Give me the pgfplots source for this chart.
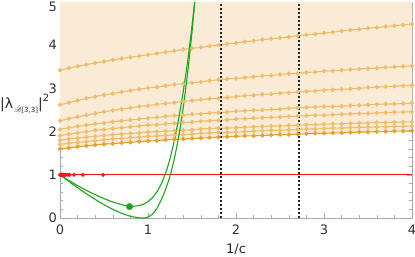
\documentclass[border=0pt]{standalone}
\usepackage{amsmath}
\usepackage{mathrsfs}
\usepackage{pgfplots}
\pgfplotsset{compat=1.18}
\usepackage{pgfplotstable}
\usepgfplotslibrary{fillbetween}
\usepackage{fontspec}
\setmainfont{DejaVu Sans}

\definecolor{fillc}{RGB}{250,235,214}
\definecolor{orl}{RGB}{238,190,110}
\definecolor{ord}{RGB}{230,162,48}
\definecolor{grn}{RGB}{30,165,30}
\definecolor{rd}{RGB}{235,25,25}
\definecolor{framec}{RGB}{170,170,170}

\pgfplotstableread{
x l1 l2 l3 l4 l5 l6 l7 l8
0.0 3.42 2.62 2.25 2.05 1.91 1.80 1.70 1.60
0.1 3.47 2.67 2.30 2.09 1.94 1.83 1.73 1.62
0.2 3.51 2.72 2.34 2.12 1.97 1.85 1.75 1.65
0.3 3.55 2.77 2.38 2.15 2.00 1.87 1.77 1.67
0.4 3.59 2.81 2.42 2.18 2.03 1.89 1.79 1.69
0.5 3.62 2.85 2.46 2.20 2.05 1.91 1.81 1.71
0.6 3.66 2.88 2.49 2.23 2.07 1.93 1.83 1.72
0.7 3.69 2.92 2.52 2.25 2.09 1.94 1.84 1.74
0.8 3.72 2.95 2.55 2.27 2.11 1.96 1.86 1.75
0.9 3.75 2.98 2.58 2.29 2.13 1.97 1.87 1.77
1.0 3.78 3.01 2.60 2.31 2.15 1.99 1.89 1.78
1.1 3.81 3.03 2.63 2.33 2.16 2.00 1.90 1.79
1.2 3.84 3.06 2.65 2.35 2.18 2.01 1.91 1.81
1.3 3.87 3.09 2.67 2.37 2.19 2.02 1.92 1.82
1.4 3.90 3.11 2.70 2.38 2.21 2.03 1.93 1.83
1.5 3.93 3.13 2.72 2.40 2.22 2.04 1.94 1.84
1.6 3.95 3.15 2.74 2.41 2.24 2.06 1.96 1.85
1.7 3.98 3.18 2.76 2.43 2.25 2.07 1.97 1.86
1.8 4.00 3.20 2.77 2.44 2.26 2.08 1.98 1.87
1.9 4.03 3.22 2.79 2.45 2.27 2.08 1.98 1.88
2.0 4.05 3.23 2.81 2.47 2.29 2.09 1.99 1.89
2.1 4.08 3.25 2.83 2.48 2.30 2.10 2.00 1.90
2.2 4.10 3.27 2.84 2.49 2.31 2.11 2.01 1.90
2.3 4.13 3.29 2.86 2.50 2.32 2.12 2.02 1.91
2.4 4.15 3.30 2.87 2.51 2.33 2.13 2.03 1.92
2.5 4.17 3.32 2.89 2.52 2.34 2.13 2.03 1.93
2.6 4.19 3.34 2.90 2.54 2.35 2.14 2.04 1.93
2.7 4.22 3.35 2.92 2.55 2.36 2.15 2.05 1.94
2.8 4.24 3.37 2.93 2.56 2.37 2.16 2.06 1.95
2.9 4.26 3.38 2.94 2.57 2.38 2.16 2.06 1.96
3.0 4.28 3.40 2.96 2.58 2.38 2.17 2.07 1.96
3.1 4.30 3.41 2.97 2.58 2.39 2.18 2.08 1.97
3.2 4.33 3.42 2.98 2.59 2.40 2.18 2.08 1.97
3.3 4.35 3.44 2.99 2.60 2.41 2.19 2.09 1.98
3.4 4.37 3.45 3.00 2.61 2.42 2.20 2.10 1.99
3.5 4.39 3.46 3.02 2.62 2.42 2.20 2.10 1.99
3.6 4.41 3.47 3.03 2.63 2.43 2.21 2.11 2.00
3.7 4.43 3.49 3.04 2.64 2.44 2.21 2.11 2.00
3.8 4.45 3.50 3.05 2.64 2.45 2.22 2.12 2.01
3.9 4.47 3.51 3.06 2.65 2.45 2.22 2.12 2.01
4.0 4.49 3.52 3.07 2.66 2.46 2.23 2.13 2.02
}\bands

\begin{document}
\begin{tikzpicture}
\begin{axis}[
  scale only axis,
  width=352pt, height=216pt,
  xmin=0, xmax=4, ymin=0, ymax=5,
  xtick={0,1,2,3,4}, ytick={0,1,2,3,4,5},
  xticklabels={0,1,2,3,4},
  yticklabels={0,1,2,3,4,\raisebox{-5pt}[\height][\depth]{5}},
  minor x tick num=4, minor y tick num=4,
  tick align=inside,
  major tick length=5pt, minor tick length=3pt,
  tick style={framec, line width=0.6pt},
  axis line style={framec, line width=0.9pt},
  ticklabel style={font=\fontsize{13pt}{13pt}\selectfont, text=black!80},
  xticklabel style={inner sep=0pt, yshift=-6.5pt},
  yticklabel style={inner sep=0pt, xshift=-3pt},
  clip=true,
]
\addplot[draw=none, name path=bot, forget plot] table[x=x,y=l8]{\bands};
\path[name path=top] (axis cs:0,5) -- (axis cs:4,5);
\addplot[fill=fillc, draw=none] fill between[of=bot and top];

\addplot[orl, line width=1.1pt, mark=*, mark size=1.6pt, mark options={draw=orl, fill=orl}] table[x=x,y=l1]{\bands};
\addplot[orl, line width=1.1pt, mark=*, mark size=1.6pt, mark options={draw=orl, fill=orl}] table[x=x,y=l2]{\bands};
\addplot[orl, line width=1.1pt, mark=*, mark size=1.6pt, mark options={draw=orl, fill=orl}] table[x=x,y=l3]{\bands};
\addplot[orl, line width=1.1pt, mark=*, mark size=1.6pt, mark options={draw=orl, fill=orl}] table[x=x,y=l4]{\bands};
\addplot[orl, line width=1.1pt, mark=*, mark size=1.6pt, mark options={draw=orl, fill=orl}] table[x=x,y=l5]{\bands};
\addplot[orl, line width=1.1pt, mark=*, mark size=1.6pt, mark options={draw=orl, fill=orl}] table[x=x,y=l6]{\bands};
\addplot[orl, line width=1.1pt, mark=*, mark size=1.6pt, mark options={draw=orl, fill=orl}] table[x=x,y=l7]{\bands};
\addplot[ord, line width=1.1pt, mark=*, mark size=1.6pt, mark options={draw=ord, fill=ord}] table[x=x,y=l8]{\bands};

\addplot[rd, line width=1.2pt] coordinates {(0,1) (4,1)};
\addplot[rd, only marks, mark=*, mark size=1.8pt] coordinates {(0,1) (0.01,1) (0.02,1) (0.03,1) (0.04,1) (0.05,1) (0.065,1) (0.09,1) (0.11,1) (0.16,1) (0.26,1) (0.49,1)};

\addplot[grn, line width=1.1pt, smooth, tension=0.4] coordinates {(0,1) (0.1,0.87) (0.2,0.75) (0.3,0.64) (0.4,0.54) (0.5,0.45) (0.6,0.37) (0.7,0.31) (0.78,0.27) (0.85,0.275) (0.9,0.29) (0.95,0.32) (1.0,0.38) (1.05,0.47) (1.1,0.60) (1.15,0.79) (1.2,1.04) (1.25,1.37) (1.3,1.80) (1.35,2.32) (1.4,2.92) (1.45,3.62) (1.5,4.45) (1.53,5.0) (1.55,5.4)};
\addplot[grn, line width=1.1pt, smooth, tension=0.4] coordinates {(0,1) (0.1,0.85) (0.2,0.70) (0.3,0.56) (0.4,0.43) (0.5,0.31) (0.6,0.20) (0.7,0.11) (0.8,0.04) (0.9,0.005) (0.95,0) (1.0,0.02) (1.05,0.09) (1.1,0.22) (1.15,0.42) (1.2,0.66) (1.25,0.97) (1.3,1.38) (1.35,1.9) (1.4,2.55) (1.45,3.35) (1.5,4.3) (1.54,5.2)};

\addplot[black!85, line width=1.8pt, dash pattern=on 2pt off 2pt] coordinates {(1.83,0) (1.83,5)};
\addplot[black!85, line width=1.8pt, dash pattern=on 2pt off 2pt] coordinates {(2.72,0) (2.72,5)};

\addplot[grn, only marks, mark=*, mark size=3.2pt] coordinates {(0.79,0.265)};
\end{axis}
\node[anchor=center, font=\fontsize{13pt}{13pt}\selectfont, text=black!85] at (176pt,-31pt) {1/c};
\node[anchor=west, inner sep=0pt, text=black!85] at (-60pt,114pt) {{\fontsize{14pt}{14pt}\selectfont |λ}\kern1pt\raisebox{-4pt}{\fontsize{7pt}{7pt}\selectfont$\hat{\mathscr{B}}$[3,3]}{\fontsize{14pt}{14pt}\selectfont|}\raisebox{7pt}{\fontsize{10pt}{10pt}\selectfont 2}};
\pgfresetboundingbox
\path[use as bounding box] (-60pt,-39pt) rectangle (355pt,218pt);
\end{tikzpicture}
\end{document}
